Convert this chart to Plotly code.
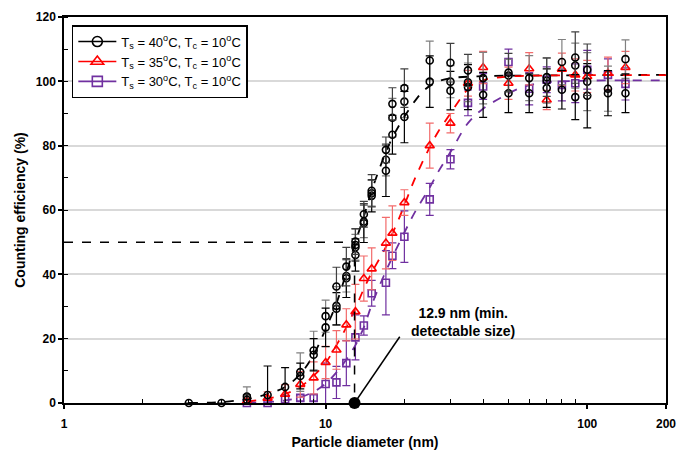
import math
import plotly.graph_objects as go

# ---------------- data ----------------
# Ts = 40 C series (three repeated runs)
d40_a = [3, 4, 5, 6, 7, 8, 9, 10, 11, 12, 13, 14, 15, 17, 18, 20, 25, 30, 35, 40, 50, 60, 70, 80, 90, 100, 120, 140]
eff40_a = [0, 0, 1, 2.5, 5, 8.4, 15, 23.5, 29.3, 38.8, 46, 55.9, 64.4, 72.2, 83.4, 88.9, 99.9, 97.1, 98.2, 95.8, 96.3, 96.3, 97.9, 97.4, 95.1, 95.5, 96.3, 96.3]
err40_a = [0, 0, 1.5, 9, 6, 4, 5, 6, 5, 6, 5, 6, 5, 8, 6, 8, 8, 6, 7, 7, 6, 6, 6, 6, 7, 10, 7, 6]

d40_b = [5, 8, 9, 10, 11, 12, 13, 14, 15, 17, 18, 20, 25, 30, 35, 40, 50, 60, 70, 80, 90, 100, 120, 140]
eff40_b = [2, 9.6, 16.3, 27, 30.2, 39.5, 48.4, 56.4, 65.2, 75.6, 88.7, 93.7, 106.5, 99.9, 99.7, 101, 101.8, 101, 100.2, 106, 104.9, 99.9, 97.7, 106.9]
err40_b = [3, 6, 6, 5, 6, 5, 4, 5, 4, 5, 6, 5, 6, 5, 6, 8, 5, 7, 7, 7, 7, 9, 7, 6]

d40_c = [11, 12, 13, 13, 14, 15, 17, 18, 20, 30, 35, 50, 70, 90, 100]
eff40_c = [36.2, 42.4, 49.1, 50.2, 58.7, 66, 78.7, 93, 97.9, 105.8, 103.4, 102.7, 101.3, 107.4, 103.6]
err40_c = [6, 6, 5, 4, 4, 5, 4, 5, 6, 6, 5, 6, 6, 8, 8]

# Ts = 35 C series
d35 = [5, 6, 7, 8, 9, 10, 11, 12, 13, 14, 15, 17, 18, 20, 25, 30, 35, 40, 50, 60, 70, 80, 90, 100, 120, 140]
eff35 = [0.5, 1.5, 2.7, 5.8, 7.8, 12.6, 16.5, 24.3, 28.4, 38.7, 41.7, 49.7, 52.8, 62.3, 80, 87, 99.4, 104.3, 99.4, 103.9, 94.2, 103.8, 102, 101.5, 102.5, 104.3]
err35 = [1, 2, 3, 4, 5, 5, 6, 5, 8.5, 7, 6.5, 8, 8.5, 4, 7, 3, 4, 5, 5, 5, 3, 5, 5, 5, 5, 5]

# Ts = 30 C series
d30 = [5, 6, 7, 8, 9, 10, 11, 12, 13, 14, 15, 17, 18, 20, 25, 30, 35, 40, 50, 60, 70, 80, 90, 100, 120, 140]
eff30 = [0, 0, 1.1, 1.6, 1.6, 5.9, 6.4, 12.4, 20.4, 24.1, 34.1, 37.4, 45.8, 51.7, 63.3, 75.8, 93.3, 98.4, 106, 97.7, 100.5, 98.9, 99.4, 103.6, 102, 99.2]
err30 = [0, 0, 1, 1, 1, 6.5, 5, 7, 7, 3, 4, 10, 4, 8, 5, 3, 4, 4, 4, 5, 4, 5, 6, 6, 5, 5]

# fitted curves
fit_d40 = [3, 4, 5, 6, 7, 8, 9, 10, 11, 12, 13, 14, 15, 16, 17, 18, 20, 22, 24, 27, 30, 40, 60, 100, 200]
fit_e40 = [0, 0.3, 1.2, 2.8, 5, 9, 15, 23, 31, 40.5, 50, 58, 66, 72.5, 78, 82.5, 89, 94, 97.5, 100, 101, 101.6, 101.8, 101.9, 102]
fit_d35 = [5, 6, 7, 8, 9, 10, 11, 12, 13, 14, 15, 17, 19, 20, 22, 25, 27, 30, 33, 35, 40, 50, 70, 100, 200]
fit_e35 = [0.5, 1.3, 2.8, 5, 8.5, 12.5, 18, 23.5, 29.5, 35.5, 40.5, 48.5, 57, 61.5, 70, 79.5, 84.5, 90, 95, 97.5, 100.3, 101.5, 101.8, 101.9, 101.9]
fit_d30 = [5, 6, 7, 8, 9, 10, 11, 12, 13, 14, 15, 17, 20, 22, 25, 27, 30, 35, 40, 47, 55, 66, 100, 200]
fit_e30 = [0, 0.3, 0.8, 1.8, 3.5, 6, 9.5, 13.5, 18, 23.5, 30.5, 41, 53, 59.5, 67, 72, 78, 87, 91.5, 95, 97.8, 99.5, 100.2, 100.3]

# min detectable size
d50 = 12.9
eff50 = 50
pointer_end = (19.2, 20.6)

labels = ["T<sub>s</sub> = 40<sup>o</sup>C, T<sub>c</sub> = 10<sup>o</sup>C",
          "T<sub>s</sub> = 35<sup>o</sup>C, T<sub>c</sub> = 10<sup>o</sup>C",
          "T<sub>s</sub> = 30<sup>o</sup>C, T<sub>c</sub> = 10<sup>o</sup>C"]

x_ticks = [1, 10, 100, 200]
x_minor = [2, 3, 4, 5, 6, 7, 8, 9, 20, 30, 40, 50, 60, 70, 80, 90]

BLACK = "#000000"
GREY = "#808080"
RED = "#ff0000"
LRED = "#f26b6b"
PURPLE = "#7030a0"
FONT = "Liberation Sans, Arial, sans-serif"

fig = go.Figure()

# fitted dashed curves
for fd, fe, col in [(fit_d40, fit_e40, BLACK), (fit_d35, fit_e35, RED), (fit_d30, fit_e30, PURPLE)]:
    fig.add_trace(go.Scatter(x=fd, y=fe, mode="lines", line=dict(color=col, width=1.8, dash="dash", shape="spline"),
                             showlegend=False, hoverinfo="skip"))

def data_trace(x, y, e, col, ecol, symbol, size):
    return go.Scatter(x=x, y=y, mode="markers", showlegend=False, cliponaxis=False,
                      marker=dict(symbol=symbol, size=size, color=col, line=dict(color=col, width=1.6)),
                      error_y=dict(type="data", array=e, color=ecol, thickness=1.2, width=4))

fig.add_trace(data_trace(d30, eff30, err30, PURPLE, PURPLE, "square-open", 7))
fig.add_trace(data_trace(d35, eff35, err35, RED, LRED, "triangle-up-open", 8))
fig.add_trace(data_trace(d40_b, eff40_b, err40_b, BLACK, GREY, "circle-open", 7))
fig.add_trace(data_trace(d40_a, eff40_a, err40_a, BLACK, BLACK, "circle-open", 7))
fig.add_trace(data_trace(d40_c, eff40_c, err40_c, BLACK, "#404040", "circle-open", 7))

# legend entries
for lab, col, sym, sz in [(labels[0], BLACK, "circle-open", 10), (labels[1], RED, "triangle-up-open", 11),
                          (labels[2], PURPLE, "square-open", 10)]:
    fig.add_trace(go.Scatter(x=[None], y=[None], mode="lines+markers", name=lab,
                             line=dict(color=col, width=1.6),
                             marker=dict(symbol=sym, size=sz, color=col, line=dict(color=col, width=1.6))))

# 50 % guide lines
fig.add_trace(go.Scatter(x=[1, d50, d50], y=[eff50, eff50, 0], mode="lines",
                         line=dict(color=BLACK, width=1.5, dash="dash"), showlegend=False, hoverinfo="skip"))
# pointer line
fig.add_trace(go.Scatter(x=[d50, pointer_end[0]], y=[0, pointer_end[1]], mode="lines",
                         line=dict(color=BLACK, width=1.5), showlegend=False, hoverinfo="skip"))
# dot
fig.add_trace(go.Scatter(x=[d50], y=[0], mode="markers", marker=dict(color=BLACK, size=12),
                         showlegend=False, cliponaxis=False, hoverinfo="skip"))

fig.add_annotation(x=math.log10(33.5), y=25.2, xref="x", yref="y", showarrow=False,
                   text="12.9 nm (min.<br>detectable size)", align="center",
                   font=dict(family=FONT, size=14, color=BLACK, weight="bold"))

xr = [0, math.log10(200)]
fig.update_layout(
    width=677, height=452,
    margin=dict(l=64, r=11, t=17, b=49),
    paper_bgcolor="white", plot_bgcolor="white",
    font=dict(family=FONT, color=BLACK),
    xaxis=dict(type="log", range=xr, tickvals=x_ticks, ticktext=[str(v) for v in x_ticks],
               ticks="outside", ticklen=4, tickwidth=1.5, tickcolor=BLACK, automargin=False,
               ticklabelstandoff=5,
               showline=True, linecolor=BLACK, linewidth=1.5, mirror=True, showgrid=False, zeroline=False,
               tickfont=dict(size=12, weight="bold"),
               title=dict(text="Particle diameter (nm)", font=dict(size=14, weight="bold"), standoff=7)),
    xaxis2=dict(type="log", range=xr, overlaying="x", anchor="y", side="bottom", tickvals=x_minor,
                ticks="inside", ticklen=4, tickwidth=1.2, tickcolor=BLACK, showticklabels=False,
                showline=False, showgrid=False, zeroline=False, automargin=False),
    yaxis=dict(range=[0, 120], dtick=20, ticks="outside", ticklen=4, tickwidth=1.5, tickcolor=BLACK,
               showline=True, linecolor=BLACK, linewidth=1.5, mirror=True, automargin=False,
               showgrid=True, gridcolor="#d9d9d9", gridwidth=1.5, zeroline=False,
               minor=dict(dtick=10, ticks="inside", ticklen=4, tickwidth=1.2, tickcolor=BLACK, showgrid=False),
               tickfont=dict(size=12, weight="bold"),
               title=dict(text="Counting efficiency (%)", font=dict(size=14, weight="bold"), standoff=7)),
    legend=dict(x=0.013, y=0.979, xanchor="left", yanchor="top", bordercolor=BLACK, borderwidth=1.5,
                bgcolor="white", font=dict(size=13), tracegroupgap=0, itemwidth=38),
)
# invisible trace to keep overlay axis
fig.add_trace(go.Scatter(x=[1], y=[0], xaxis="x2", mode="markers", marker=dict(opacity=0), showlegend=False,
                         hoverinfo="skip"))

fig.write_html("out.html", config={"displayModeBar": False},
               post_script="document.body.style.margin='0';document.body.style.padding='0';")
